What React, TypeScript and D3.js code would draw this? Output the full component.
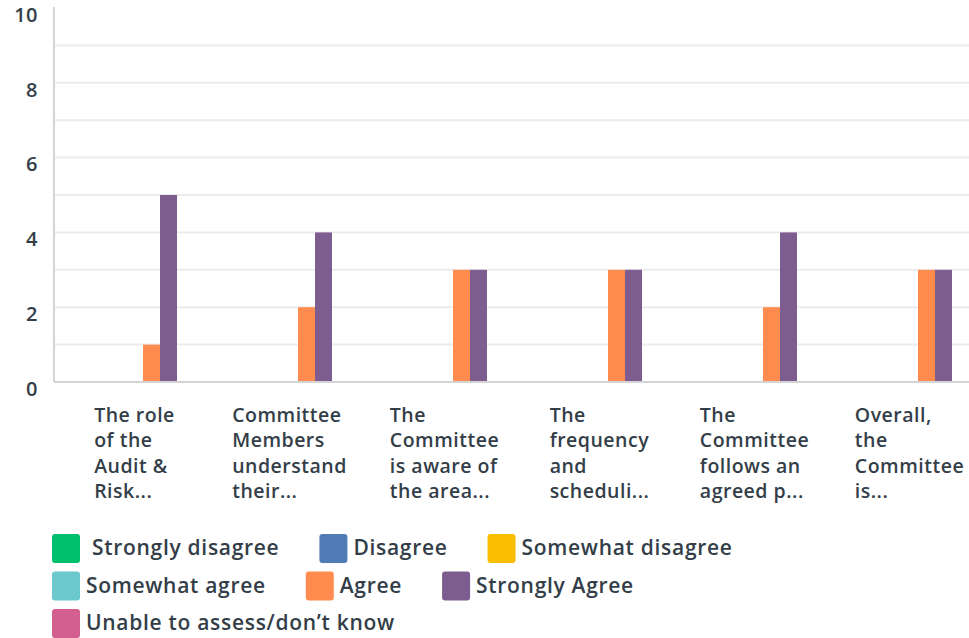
import React, { useMemo } from "react";
import * as d3 from "d3";

const categories: string[][] = [
  ["The role", "of the", "Audit &", "Risk..."],
  ["Committee", "Members", "understand", "their..."],
  ["The", "Committee", "is aware of", "the area..."],
  ["The", "frequency", "and", "scheduli..."],
  ["The", "Committee", "follows an", "agreed p..."],
  ["Overall,", "the", "Committee", "is..."],
];
const seriesNames = [
  "Strongly disagree",
  "Disagree",
  "Somewhat disagree",
  "Somewhat agree",
  "Agree",
  "Strongly Agree",
  "Unable to assess/don’t know",
];
const seriesColors = ["#00bf6f", "#507cb6", "#f9be00", "#6bc8cd", "#ff8b4f", "#7d5d8f", "#d25f90"];
const stronglyDisagree = [0, 0, 0, 0, 0, 0];
const disagree = [0, 0, 0, 0, 0, 0];
const somewhatDisagree = [0, 0, 0, 0, 0, 0];
const somewhatAgree = [0, 0, 0, 0, 0, 0];
const agree = [1, 2, 3, 3, 2, 3];
const stronglyAgree = [5, 4, 3, 3, 4, 3];
const unable = [0, 0, 0, 0, 0, 0];
const seriesValues = [stronglyDisagree, disagree, somewhatDisagree, somewhatAgree, agree, stronglyAgree, unable];
const yTicks = [0, 2, 4, 6, 8, 10];
const gridValues = [1, 2, 3, 4, 5, 6, 7, 8, 9];

const FONT = "'Open Sans', Roboto, sans-serif";
const TEXT = "#333e48";

function measure(text: string, font: string, ls: number): number {
  const c = document.createElement("canvas").getContext("2d");
  if (!c) return text.length * 10;
  c.font = font;
  return c.measureText(text).width + text.length * ls;
}

export default function App() {
  const W = 969;
  const H = 638;
  const x0 = d3.scaleBand<number>().domain(d3.range(categories.length)).range([57, 987]).padding(0);
  const barW = 17;
  const x1 = d3
    .scaleBand<number>()
    .domain(d3.range(seriesNames.length))
    .range([0, barW * seriesNames.length]);
  const groupOffset = (x0.bandwidth() - barW * seriesNames.length) / 2;
  const y = d3.scaleLinear().domain([0, 10]).range([382, 8]);

  const labelSize = 19.5;
  const labelLs = 0.5;
  const legendSize = 21;
  const legendLs = 0.7;
  const labelFont = `600 ${labelSize}px 'Open Sans'`;
  const legendFont = `600 ${legendSize}px 'Open Sans'`;

  const labelLayouts = useMemo(
    () => categories.map((lines) => Math.max(...lines.map((l) => measure(l, labelFont, labelLs)))),
    []
  );

  const legendItems = useMemo(() => {
    const rows = [[0, 1, 2], [3, 4, 5], [6]];
    const items: { i: number; x: number; y: number }[] = [];
    rows.forEach((row, r) => {
      let cx = 52;
      row.forEach((i) => {
        items.push({ i, x: cx, y: 534 + r * 37.5 });
        cx += 34 + (i === 0 ? 6 : 0) + measure(seriesNames[i], legendFont, legendLs) + 40;
      });
    });
    return items;
  }, []);

  return (
    <svg width={W} height={H} style={{ position: "absolute", left: 0, top: 0, background: "#fff" }}>
      {gridValues.map((v) => (
        <line key={v} x1={54} x2={W} y1={y(v)} y2={y(v)} stroke="#ececec" strokeWidth={2} />
      ))}
      <line x1={54} x2={54} y1={7} y2={y(0)} stroke="#d4d4d4" strokeWidth={2} />
      {yTicks.map((v) => (
        <text
          key={v}
          x={38}
          y={y(v) + 8.5}
          textAnchor="end"
          dominantBaseline="middle"
          fontFamily={FONT}
          fontWeight={600}
          fontSize={20}
          letterSpacing={0.5}
          fill={TEXT}
        >
          {v}
        </text>
      ))}
      {seriesValues.map((vals, s) =>
        vals.map((v, c) =>
          v > 0 ? (
            <rect
              key={`${s}-${c}`}
              x={(x0(c) ?? 0) + groupOffset + (x1(s) ?? 0)}
              y={y(v)}
              width={x1.bandwidth()}
              height={y(0) - y(v)}
              fill={seriesColors[s]}
            />
          ) : null
        )
      )}
      <line x1={54} x2={W} y1={y(0)} y2={y(0)} stroke="#d4d4d4" strokeWidth={2} />
      {categories.map((lines, c) => {
        const cx = (x0(c) ?? 0) + x0.bandwidth() / 2;
        const left = cx - labelLayouts[c] / 2;
        return (
          <text
            key={c}
            fontFamily={FONT}
            fontWeight={600}
            fontSize={labelSize}
            letterSpacing={labelLs}
            fill={TEXT}
          >
            {lines.map((l, k) => (
              <tspan key={k} x={left} y={422 + k * 25.3}>
                {l}
              </tspan>
            ))}
          </text>
        );
      })}
      {legendItems.map(({ i, x, y: ly }) => (
        <g key={i}>
          <rect x={x} y={ly} width={28} height={29} rx={3} fill={seriesColors[i]} />
          <text
            x={x + 34 + (i === 0 ? 6 : 0)}
            y={ly + 21}
            fontFamily={FONT}
            fontWeight={600}
            fontSize={legendSize}
            letterSpacing={legendLs}
            fill={TEXT}
          >
            {seriesNames[i]}
          </text>
        </g>
      ))}
    </svg>
  );
}
